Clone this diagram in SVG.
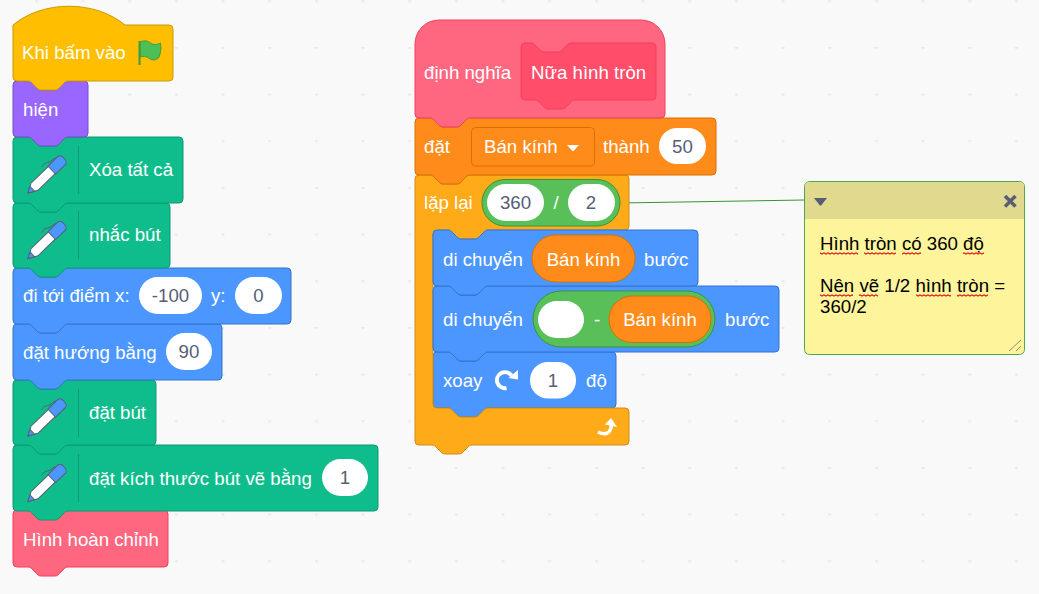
<svg xmlns="http://www.w3.org/2000/svg" width="1039" height="594" viewBox="0 0 1039 594">
<style>
text{font-family:"Liberation Sans",Arial,sans-serif;font-size:18.67px}
.t{fill:#fff}
.v{fill:#575E75;text-anchor:middle}
.n{fill:#000}
.o{fill:#fff}
.b{stroke-width:1}
.pen{fill:#0FBD8C;stroke:#0B9A72}
.mo{fill:#4C97FF;stroke:#3373CC}
.cu{fill:#FF6680;stroke:#F23F5F}
.va{fill:#FF8C1A;stroke:#DB6E00}
.ct{fill:#FFAB19;stroke:#CF8B17}
.op{fill:#59C059;stroke:#389438}
.sep{stroke:#0B9A72;stroke-width:1}
</style>
<defs>
<pattern id="dots" patternUnits="userSpaceOnUse" x="36" y="0.3" width="46.67" height="46.67"><circle cx="0.7" cy="0.7" r="1.2" fill="#E8E8E8"/><circle cx="46.67" cy="0.7" r="1.2" fill="#E8E8E8"/></pattern>
<pattern id="wave" patternUnits="userSpaceOnUse" x="0" y="0" width="4" height="3"><path d="M0,0.8L2,2.2L4,0.8" fill="none" stroke="#E01010" stroke-width="1.1"/></pattern>
<g id="penIcon">
<path d="M14,-26c1,-5 7,-4 9,-6c2,-2 4,-3 6,-3" fill="none" stroke="#575E75" stroke-width="1"/>
<g transform="rotate(-44)">
<path d="M0,0L9,-5H34V5H9Z" fill="#fff" stroke="#575E75"/>
<path d="M0,0L6,-3.300V3.300Z" fill="#4C97FF" stroke="#575E75"/>
<path d="M33,-5.500H47a3,5.500 0 0 1 0,11H33Z" fill="#4C97FF" stroke="#575E75"/>
</g>
</g>
</defs>
<rect width="1039" height="594" fill="#F9F9F9"/>
<rect width="1039" height="594" fill="url(#dots)"/>

<g id="connectors"><line x1="620" y1="203" x2="805" y2="200" stroke="#389438" stroke-width="1"/></g>

<g id="block-hinh-hoan-chinh"><path class="cu b" d="M13,514a4,4 0 0 1 4,-4h11c2,0 3,1 4,2l4,4c1,1 2.500,3 5,3h14c2.500,0 4,-2 5,-3l4,-4c1,-1 2,-2 4,-2H164a4,4 0 0 1 4,4V563a4,4 0 0 1 -4,4H68c-2,0 -3,1 -4,2l-4,4c-1,1 -2.500,3 -5,3h-14c-2.500,0 -4,-2 -5,-3l-4,-4c-1,-1 -2,-2 -4,-2H17a4,4 0 0 1 -4,-4Z"/><text class="t" x="23" y="546">Hình hoàn chỉnh</text></g>

<g id="block-kich-thuoc"><path class="pen b" d="M13,449a4,4 0 0 1 4,-4h11c2,0 3,1 4,2l4,4c1,1 2.500,3 5,3h14c2.500,0 4,-2 5,-3l4,-4c1,-1 2,-2 4,-2H374a4,4 0 0 1 4,4V507a4,4 0 0 1 -4,4H68c-2,0 -3,1 -4,2l-4,4c-1,1 -2.500,3 -5,3h-14c-2.500,0 -4,-2 -5,-3l-4,-4c-1,-1 -2,-2 -4,-2H17a4,4 0 0 1 -4,-4Z"/><use href="#penIcon" x="28" y="501.500"/><line class="sep" x1="78.500" y1="454" x2="78.500" y2="502"/><text class="t" x="89" y="485">đặt kích thước bút vẽ bằng</text><rect class="o" x="322" y="459" width="46" height="37" rx="18.500"/><text class="v" x="345" y="484">1</text></g>

<g id="block-dat-but"><path class="pen b" d="M13,384a4,4 0 0 1 4,-4h11c2,0 3,1 4,2l4,4c1,1 2.500,3 5,3h14c2.500,0 4,-2 5,-3l4,-4c1,-1 2,-2 4,-2H152a4,4 0 0 1 4,4V441a4,4 0 0 1 -4,4H68c-2,0 -3,1 -4,2l-4,4c-1,1 -2.500,3 -5,3h-14c-2.500,0 -4,-2 -5,-3l-4,-4c-1,-1 -2,-2 -4,-2H17a4,4 0 0 1 -4,-4Z"/><use href="#penIcon" x="28" y="436"/><line class="sep" x1="78.500" y1="389" x2="78.500" y2="437"/><text class="t" x="89" y="419">đặt bút</text></g>

<g id="block-dat-huong"><path class="mo b" d="M13,328a4,4 0 0 1 4,-4h11c2,0 3,1 4,2l4,4c1,1 2.500,3 5,3h14c2.500,0 4,-2 5,-3l4,-4c1,-1 2,-2 4,-2H218a4,4 0 0 1 4,4V376a4,4 0 0 1 -4,4H68c-2,0 -3,1 -4,2l-4,4c-1,1 -2.500,3 -5,3h-14c-2.500,0 -4,-2 -5,-3l-4,-4c-1,-1 -2,-2 -4,-2H17a4,4 0 0 1 -4,-4Z"/><text class="t" x="23" y="359">đặt hướng bằng</text><rect class="o" x="166" y="333" width="46" height="37" rx="18.500"/><text class="v" x="189" y="358">90</text></g>

<g id="block-di-toi"><path class="mo b" d="M13,272a4,4 0 0 1 4,-4h11c2,0 3,1 4,2l4,4c1,1 2.500,3 5,3h14c2.500,0 4,-2 5,-3l4,-4c1,-1 2,-2 4,-2H287a4,4 0 0 1 4,4V320a4,4 0 0 1 -4,4H68c-2,0 -3,1 -4,2l-4,4c-1,1 -2.500,3 -5,3h-14c-2.500,0 -4,-2 -5,-3l-4,-4c-1,-1 -2,-2 -4,-2H17a4,4 0 0 1 -4,-4Z"/><text class="t" x="23" y="302">đi tới điểm x:</text><rect class="o" x="139" y="277" width="63" height="37" rx="18.500"/><text class="v" x="170.500" y="302">-100</text><text class="t" x="211" y="302">y:</text><rect class="o" x="235" y="277" width="47" height="37" rx="18.500"/><text class="v" x="258.500" y="302">0</text></g>

<g id="block-nhac-but"><path class="pen b" d="M13,207a4,4 0 0 1 4,-4h11c2,0 3,1 4,2l4,4c1,1 2.500,3 5,3h14c2.500,0 4,-2 5,-3l4,-4c1,-1 2,-2 4,-2H166a4,4 0 0 1 4,4V264a4,4 0 0 1 -4,4H68c-2,0 -3,1 -4,2l-4,4c-1,1 -2.500,3 -5,3h-14c-2.500,0 -4,-2 -5,-3l-4,-4c-1,-1 -2,-2 -4,-2H17a4,4 0 0 1 -4,-4Z"/><use href="#penIcon" x="28" y="258.500"/><line class="sep" x1="78.500" y1="211" x2="78.500" y2="259"/><text class="t" x="89" y="241">nhắc bút</text></g>

<g id="block-xoa"><path class="pen b" d="M13,141a4,4 0 0 1 4,-4h11c2,0 3,1 4,2l4,4c1,1 2.500,3 5,3h14c2.500,0 4,-2 5,-3l4,-4c1,-1 2,-2 4,-2H179a4,4 0 0 1 4,4V199a4,4 0 0 1 -4,4H68c-2,0 -3,1 -4,2l-4,4c-1,1 -2.500,3 -5,3h-14c-2.500,0 -4,-2 -5,-3l-4,-4c-1,-1 -2,-2 -4,-2H17a4,4 0 0 1 -4,-4Z"/><use href="#penIcon" x="28" y="193"/><line class="sep" x1="78.500" y1="146" x2="78.500" y2="194"/><text class="t" x="89" y="176">Xóa tất cả</text></g>

<g id="block-hien"><path d="M13,85a4,4 0 0 1 4,-4h11c2,0 3,1 4,2l4,4c1,1 2.500,3 5,3h14c2.500,0 4,-2 5,-3l4,-4c1,-1 2,-2 4,-2H84a4,4 0 0 1 4,4V133a4,4 0 0 1 -4,4H68c-2,0 -3,1 -4,2l-4,4c-1,1 -2.500,3 -5,3h-14c-2.500,0 -4,-2 -5,-3l-4,-4c-1,-1 -2,-2 -4,-2H17a4,4 0 0 1 -4,-4Z" fill="#9966FF" stroke="#774DCB"/><text class="t" x="23" y="115.500">hiện</text></g>

<g id="block-khi-bam"><path d="M13,25c30,-25 82,-25 112,0H169a4,4 0 0 1 4,4V77a4,4 0 0 1 -4,4H68c-2,0 -3,1 -4,2l-4,4c-1,1 -2.500,3 -5,3h-14c-2.500,0 -4,-2 -5,-3l-4,-4c-1,-1 -2,-2 -4,-2H17a4,4 0 0 1 -4,-4Z" fill="#FFBF00" stroke="#CC9900"/><text class="t" x="22" y="59">Khi bấm vào</text><path d="M139.500,42c6,-2 8,-1 11,1c3,2 6,2 10,0c1,6 0,11 -2,15c-4,3 -7,2 -10,0c-3,-2 -5,-2 -8,-1Z" fill="#4CBF56" stroke="#45993D"/><line x1="139.500" y1="41" x2="139.500" y2="65" stroke="#45993D" stroke-width="2"/></g>

<g id="block-xoay"><path class="mo b" d="M433,356a4,4 0 0 1 4,-4h11c2,0 3,1 4,2l4,4c1,1 2.500,3 5,3h14c2.500,0 4,-2 5,-3l4,-4c1,-1 2,-2 4,-2H612a4,4 0 0 1 4,4V404a4,4 0 0 1 -4,4H488c-2,0 -3,1 -4,2l-4,4c-1,1 -2.500,3 -5,3h-14c-2.500,0 -4,-2 -5,-3l-4,-4c-1,-1 -2,-2 -4,-2H437a4,4 0 0 1 -4,-4Z"/><text class="t" x="443" y="387">xoay</text><path d="M506.500,388a8,8 0 1 1 5,-12.500" fill="none" stroke="#fff" stroke-width="4"/><path d="M518,370V379.500L508.500,378Z" fill="#fff"/><rect class="o" x="530" y="362" width="46" height="36.500" rx="18"/><text class="v" x="553" y="387">1</text><text class="t" x="586" y="387">độ</text></g>

<g id="block-lap-lai"><path class="ct b" d="M415,179a4,4 0 0 1 4,-4h11c2,0 3,1 4,2l4,4c1,1 2.500,3 5,3h14c2.500,0 4,-2 5,-3l4,-4c1,-1 2,-2 4,-2H625a4,4 0 0 1 4,4V226a4,4 0 0 1 -4,4H488c-2,0 -3,1 -4,2l-4,4c-1,1 -2.500,3 -5,3h-14c-2.500,0 -4,-2 -5,-3l-4,-4c-1,-1 -2,-2 -4,-2H437a4,4 0 0 0 -4,4V404a4,4 0 0 0 4,4h11c2,0 3,1 4,2l4,4c1,1 2.500,3 5,3h14c2.500,0 4,-2 5,-3l4,-4c1,-1 2,-2 4,-2H625a4,4 0 0 1 4,4V441a4,4 0 0 1 -4,4H472c-2,0 -3,1 -4,2l-4,4c-1,1 -2.500,3 -5,3h-14c-2.500,0 -4,-2 -5,-3l-4,-4c-1,-1 -2,-2 -4,-2H419a4,4 0 0 1 -4,-4Z"/><text class="t" x="424" y="209">lặp lại</text><rect class="op b" x="482" y="179.500" width="138" height="46.500" rx="23"/><rect class="o" x="487" y="184" width="57" height="37" rx="18.500"/><text class="v" x="515.500" y="209">360</text><text class="t" x="556" y="209" text-anchor="middle">/</text><rect class="o" x="568" y="184" width="47" height="37" rx="18.500"/><text class="v" x="591" y="209">2</text><path d="M598,432c6,3 13,3 13.500,-8" fill="none" stroke="#fff" stroke-width="3.500"/><path d="M611,418L617,427L605,424.500Z" fill="#fff"/></g>

<g id="block-di-chuyen-2"><path class="mo b" d="M433,290a4,4 0 0 1 4,-4h11c2,0 3,1 4,2l4,4c1,1 2.500,3 5,3h14c2.500,0 4,-2 5,-3l4,-4c1,-1 2,-2 4,-2H775a4,4 0 0 1 4,4V348a4,4 0 0 1 -4,4H488c-2,0 -3,1 -4,2l-4,4c-1,1 -2.500,3 -5,3h-14c-2.500,0 -4,-2 -5,-3l-4,-4c-1,-1 -2,-2 -4,-2H437a4,4 0 0 1 -4,-4Z"/><text class="t" x="443" y="326">di chuyển</text><rect class="op b" x="533" y="291" width="182" height="56" rx="28"/><rect class="o" x="538" y="301" width="46" height="37" rx="18.500"/><text class="t" x="597" y="326" text-anchor="middle">-</text><rect class="va b" x="609" y="296" width="102" height="46.500" rx="23"/><text class="t" x="660" y="326" text-anchor="middle">Bán kính</text><text class="t" x="725" y="326">bước</text></g>

<g id="block-di-chuyen-1"><path class="mo b" d="M433,234a4,4 0 0 1 4,-4h11c2,0 3,1 4,2l4,4c1,1 2.500,3 5,3h14c2.500,0 4,-2 5,-3l4,-4c1,-1 2,-2 4,-2H694a4,4 0 0 1 4,4V282a4,4 0 0 1 -4,4H488c-2,0 -3,1 -4,2l-4,4c-1,1 -2.500,3 -5,3h-14c-2.500,0 -4,-2 -5,-3l-4,-4c-1,-1 -2,-2 -4,-2H437a4,4 0 0 1 -4,-4Z"/><text class="t" x="443" y="266">di chuyển</text><rect class="va b" x="532" y="235" width="103" height="47" rx="23.500"/><text class="t" x="583.500" y="266" text-anchor="middle">Bán kính</text><text class="t" x="644" y="266">bước</text></g>

<g id="block-dat"><path class="va b" d="M415,122a4,4 0 0 1 4,-4h11c2,0 3,1 4,2l4,4c1,1 2.500,3 5,3h14c2.500,0 4,-2 5,-3l4,-4c1,-1 2,-2 4,-2H712a4,4 0 0 1 4,4V171a4,4 0 0 1 -4,4H470c-2,0 -3,1 -4,2l-4,4c-1,1 -2.500,3 -5,3h-14c-2.500,0 -4,-2 -5,-3l-4,-4c-1,-1 -2,-2 -4,-2H419a4,4 0 0 1 -4,-4Z"/><text class="t" x="424" y="153">đặt</text><rect x="471.500" y="127.500" width="123" height="38.500" rx="4" fill="#FF8C1A" stroke="#DB6E00"/><text class="t" x="484" y="153">Bán kính</text><path d="M567,145h12l-5,5.500q-1,1 -2,0Z" fill="#fff"/><text class="t" x="603" y="153">thành</text><rect class="o" x="659" y="128" width="47" height="36" rx="18"/><text class="v" x="682.500" y="153">50</text></g>

<g id="block-dinh-nghia"><path class="cu b" d="M415,44a24,24 0 0 1 24,-24H641a24,24 0 0 1 24,24V114a4,4 0 0 1 -4,4H470c-2,0 -3,1 -4,2l-4,4c-1,1 -2.500,3 -5,3h-14c-2.500,0 -4,-2 -5,-3l-4,-4c-1,-1 -2,-2 -4,-2H419a4,4 0 0 1 -4,-4Z"/><text class="t" x="424" y="79">định nghĩa</text><path d="M521,47a4,4 0 0 1 4,-4h6c2,0 3,1 4,2l4,4c1,1 2.500,3 5,3h14c2.500,0 4,-2 5,-3l4,-4c1,-1 2,-2 4,-2H652a4,4 0 0 1 4,4V96a4,4 0 0 1 -4,4H575c-2,0 -3,1 -4,2l-4,4c-1,1 -2.500,3 -5,3h-14c-2.500,0 -4,-2 -5,-3l-4,-4c-1,-1 -2,-2 -4,-2H525a4,4 0 0 1 -4,-4Z" fill="#FF4D6A" stroke="#F23F5F"/><text class="t" x="531" y="79">Nữa hình tròn</text></g>

<g id="comment">
<rect x="804.500" y="181.500" width="220" height="173" rx="5" fill="#FEF49C" stroke="#4FA84F"/>
<path d="M805,219V186a4,4 0 0 1 4,-4H1020a4,4 0 0 1 4,4V219Z" fill="#E0D98E"/>
<path d="M814,198h13l-5.500,7q-1,1 -2,0Z" fill="#575E75"/>
<path d="M1005,196l10.500,10.500M1015.500,196l-10.500,10.500" stroke="#575E75" stroke-width="3.500" fill="none"/>
<text class="n" x="820" y="250">Hình tròn có 360 độ</text>
<text class="n" x="820" y="292">Nên vẽ 1/2 hình tròn =</text>
<text class="n" x="820" y="313">360/2</text>
<g fill="url(#wave)">
<rect x="820" y="252" width="38" height="3"/><rect x="864" y="252" width="32" height="3"/><rect x="902" y="252" width="19" height="3"/><rect x="963" y="252" width="21" height="3"/>
<rect x="820" y="294" width="33" height="3"/><rect x="859" y="294" width="19" height="3"/><rect x="916" y="294" width="35" height="3"/><rect x="957" y="294" width="31" height="3"/>
</g>
<path d="M1009,351L1021,340M1016,351L1021,346" stroke="#8A8A7A" stroke-width="1" fill="none"/>
</g>
</svg>
